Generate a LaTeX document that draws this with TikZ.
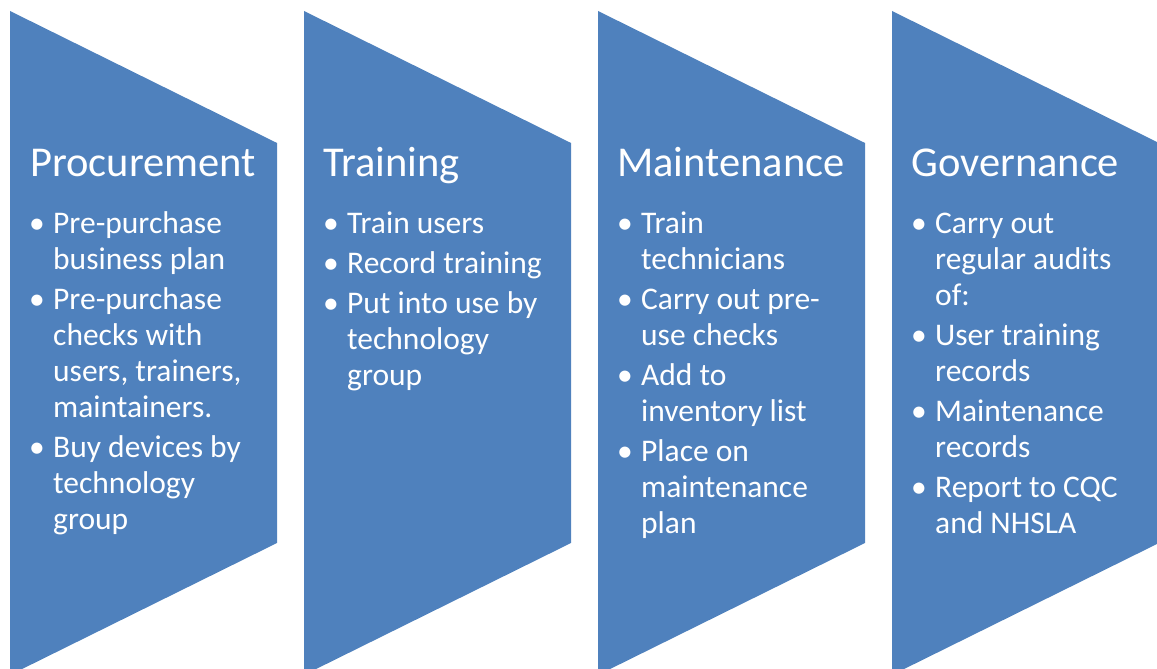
\documentclass[tikz,border=0pt]{standalone}
\usepackage{fontspec}
\setmainfont{Carlito}
\usepackage{array}
\definecolor{stageblue}{HTML}{4F81BD}
\tikzstyle{chevron} = [fill=stageblue, draw=none]
\tikzstyle{heading} = [anchor=base west, inner sep=0pt, text=white, font=\fontsize{42.5}{50}\selectfont]
\tikzstyle{items} = [anchor=base west, inner sep=0pt, text=white, font=\fontsize{31.5}{36}\selectfont]
\newcommand{\bul}{\textbullet}
\newenvironment{itemtab}{\begin{tabular}[t]{@{}p{24pt}@{}l@{}}}{\end{tabular}}

\begin{document}
\begin{tikzpicture}[x=1pt, y=1pt]
\useasboundingbox (0,0) rectangle (1157,669);
\clip (0,0) rectangle (1157,669);

% Shapes
\fill [chevron] (10,658) -- (277,526) -- (277,126) -- (10,-6) -- cycle;
\fill [chevron] (304,658) -- (571,526) -- (571,126) -- (304,-6) -- cycle;
\fill [chevron] (598,658) -- (865,526) -- (865,126) -- (598,-6) -- cycle;
\fill [chevron] (892,658) -- (1159,526) -- (1159,126) -- (892,-6) -- cycle;

% Nodes
\node (proc) [heading] at (30,492) {Procurement};
\node (procitems) [items] at (29,435) {\begin{itemtab}
\bul & Pre-purchase \\ & business plan \\[4pt]
\bul & Pre-purchase \\ & checks with \\ & users, trainers, \\ & maintainers. \\[4pt]
\bul & Buy devices by \\ & technology \\ & group
\end{itemtab}};

\node (train) [heading] at (323,492) {Training};
\node (trainitems) [items] at (323,435) {\begin{itemtab}
\bul & Train users \\[4pt]
\bul & Record training \\[4pt]
\bul & Put into use by \\ & technology \\ & group
\end{itemtab}};

\node (maint) [heading] at (617,492) {Maintenance};
\node (maintitems) [items] at (617,435) {\begin{itemtab}
\bul & Train \\ & technicians \\[4pt]
\bul & Carry out pre- \\ & use checks \\[4pt]
\bul & Add to \\ & inventory list \\[4pt]
\bul & Place on \\ & maintenance \\ & plan
\end{itemtab}};

\node (gov) [heading] at (911,492) {Governance};
\node (govitems) [items] at (911,435) {\begin{itemtab}
\bul & Carry out \\ & regular audits \\ & of: \\[4pt]
\bul & User training \\ & records \\[4pt]
\bul & Maintenance \\ & records \\[4pt]
\bul & Report to CQC \\ & and NHSLA
\end{itemtab}};

\end{tikzpicture}
\end{document}
